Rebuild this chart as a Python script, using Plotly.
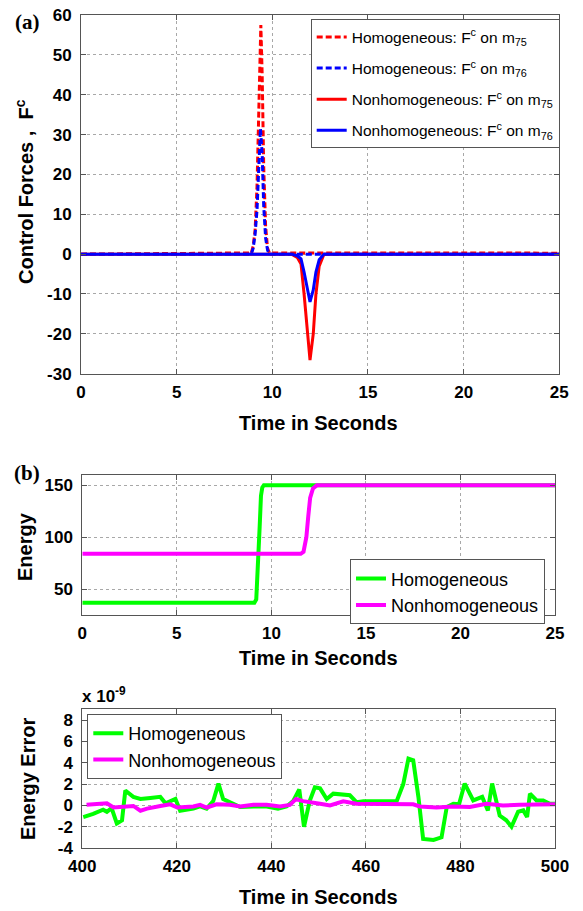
import plotly.graph_objects as go

# ---- (a) control forces ----
t_hom_m75 = [0, 6.0, 8.9, 9.0, 9.1, 9.2, 9.3, 9.4, 9.47, 9.55, 9.65, 9.75, 9.85, 25]
f_hom_m75 = [0, 0.25, 0.3, 2.0, 6.0, 17.0, 40.0, 57.5, 45.0, 22.0, 7.0, 1.5, 0.3, 0.25]
t_hom_m76 = [0, 8.9, 9.0, 9.1, 9.2, 9.3, 9.38, 9.47, 9.55, 9.65, 9.75, 9.85, 25]
f_hom_m76 = [0, 0, 1.5, 5.0, 11.0, 23.0, 31.5, 25.0, 12.0, 4.0, 1.0, 0, 0]
t_non = [0, 11.0, 11.3, 11.5, 11.66, 11.83, 11.97, 12.14, 12.28, 12.45, 12.7, 25]
f_non_m75 = [0, 0, -0.8, -2.5, -10.0, -20.0, -26.6, -20.0, -10.0, -3.0, 0, 0]
f_non_m76 = [0, 0, -0.4, -1.2, -4.5, -9.0, -12.0, -9.0, -4.5, -1.4, 0, 0]

# ---- (b) energy ----
t_e_hom = [0, 9.1, 9.2, 9.3, 9.38, 9.45, 9.52, 9.6, 25]
e_hom = [36.8, 36.8, 40, 70, 110, 140, 148, 150, 150]
t_e_non = [0, 11.55, 11.7, 11.85, 11.95, 12.05, 12.2, 12.4, 25]
e_non = [84, 84, 86, 100, 120, 138, 147, 150, 150]

# ---- (c) energy error (x 1e-9) ----
t_err_hom = [400.2, 402.3, 404.4, 405.2, 406.2, 407.3, 408.4, 409.1, 410.8, 412.3, 414.4,
             416.5, 417.6, 419.7, 420.7, 423.5, 424.9, 426.3, 427.7, 428.8, 429.8, 431.2,
             433.4, 436.2, 439.0, 441.4, 443.2, 444.6, 445.9, 446.9, 448.1, 449.2, 450.3,
             451.7, 453.1, 456.6, 458.0, 459.5, 466.5, 467.9, 469.0, 470.0, 471.1, 472.1,
             474.3, 476.0, 477.1, 478.5, 479.7, 480.9, 482.7, 484.6, 485.8, 486.7, 488.3,
             489.7, 490.8, 492.2, 493.3, 494.1, 494.7, 496.1, 497.5, 498.9, 500.0]
err_hom = [-1.1, -0.8, -0.4, -0.6, -0.25, -1.7, -1.4, 1.4, 0.8, 0.6, 0.7,
           0.8, 0.2, 0.6, -0.5, -0.3, -0.1, -0.3, 0.4, 2.05, 0.6, 0.3,
           -0.15, -0.1, -0.1, -0.3, -0.1, 0.4, 1.5, -2.0, 0.4, 1.7, 1.6,
           0.6, 1.1, 0.95, 0.3, 0.4, 0.4, 2.0, 4.4, 4.25, 0.8, -3.15,
           -3.25, -3.0, -0.15, 0.15, 0.1, 2.05, 0.47, 0.8, -0.47, 2.05, -0.95,
           -1.4, -2.0, -0.6, -0.47, -1.1, 1.1, 0.47, 0.47, 0.15, 0.15]
t_err_non = [400.9, 405.2, 406.6, 409.4, 410.8, 412.3, 413.7, 416.5, 418.6, 420.1, 423.5,
             424.9, 426.3, 428.4, 431.2, 433.4, 436.2, 439.0, 441.8, 443.9, 445.2, 446.7,
             448.9, 450.3, 452.4, 455.2, 458.0, 464.4, 470.0, 471.4, 474.9, 478.5, 482.0,
             485.5, 489.0, 492.6, 496.1, 500.0]
err_non = [0.05, 0.2, -0.2, -0.1, -0.05, -0.5, -0.3, -0.05, 0.1, -0.2, -0.1,
           0.05, -0.2, 0.1, 0.05, -0.1, 0.05, 0.05, -0.1, 0.05, 0.6, 0.4,
           0.3, 0.15, 0.0, 0.38, 0.15, 0.15, 0.1, -0.1, -0.2, -0.1, -0.15,
           0.15, 0.0, 0.05, 0.05, 0.1]

# ---- tick values ----
ticks_time = [0, 5, 10, 15, 20, 25]
ticks_force = [-30, -20, -10, 0, 10, 20, 30, 40, 50, 60]
ticks_energy = [50, 100, 150]
ticks_time_late = [400, 420, 440, 460, 480, 500]
ticks_error = [-4, -2, 0, 2, 4, 6, 8]

RED, BLUE, GREEN, MAGENTA = "#ff0000", "#0000ff", "#00ff00", "#ff00ff"
SANS = "Liberation Sans"
W, H = 583, 911


def px_x(p):
    return p / W


def px_y(p):
    return 1 - p / H


def bold_labels(vals):
    return ["<b>%d</b>" % v for v in vals]


fig = go.Figure()

dash = "6px,3px"
panel_a = [
    (t_hom_m75, f_hom_m75, RED, dash, "Homogeneous: F<sup>c</sup> on m<sub>75</sub>"),
    (t_hom_m76, f_hom_m76, BLUE, dash, "Homogeneous: F<sup>c</sup> on m<sub>76</sub>"),
    (t_non, f_non_m75, RED, "solid", "Nonhomogeneous: F<sup>c</sup> on m<sub>75</sub>"),
    (t_non, f_non_m76, BLUE, "solid", "Nonhomogeneous: F<sup>c</sup> on m<sub>76</sub>"),
]
for i, (tx, fy, col, ds, nm) in enumerate(panel_a):
    fig.add_trace(go.Scatter(x=tx, y=fy, mode="lines", xaxis="x", yaxis="y",
                             line=dict(color=col, width=3, dash=ds), legend="legend",
                             legendgroup="a%d" % i, name=nm))

fig.add_trace(go.Scatter(x=t_e_hom, y=e_hom, mode="lines", xaxis="x2", yaxis="y2",
                         line=dict(color=GREEN, width=4), legend="legend2", name="Homogeneous"))
fig.add_trace(go.Scatter(x=t_e_non, y=e_non, mode="lines", xaxis="x2", yaxis="y2",
                         line=dict(color=MAGENTA, width=4), legend="legend2", name="Nonhomogeneous"))

fig.add_trace(go.Scatter(x=t_err_hom, y=err_hom, mode="lines", xaxis="x3", yaxis="y3",
                         line=dict(color=GREEN, width=4), legend="legend3", name="Homogeneous"))
fig.add_trace(go.Scatter(x=t_err_non, y=err_non, mode="lines", xaxis="x3", yaxis="y3",
                         line=dict(color=MAGENTA, width=4), legend="legend3", name="Nonhomogeneous"))

axis_common = dict(
    showline=True, linecolor="#555555", linewidth=1, mirror="ticks",
    ticks="inside", ticklen=5, tickcolor="#555555",
    showgrid=True, gridcolor="#a8a8a8", griddash="dot", gridwidth=1,
    zeroline=False, automargin=False,
    tickfont=dict(family=SANS, size=17, color="black"),
)


def xax(dom, rng, vals, anchor):
    return dict(axis_common, domain=dom, range=rng, tickvals=vals,
                ticktext=bold_labels(vals), anchor=anchor, ticklabelstandoff=3)


def yax(dom, rng, vals, anchor):
    return dict(axis_common, domain=dom, range=rng, tickvals=vals,
                ticktext=bold_labels(vals), anchor=anchor, ticklabelstandoff=5)


legend_common = dict(
    bgcolor="white", bordercolor="#555555", borderwidth=1,
    font=dict(family=SANS, size=18, color="black"),
    xanchor="left", yanchor="top",
)

fig.update_layout(
    width=W, height=H, margin=dict(l=0, r=0, t=0, b=0, autoexpand=False),
    paper_bgcolor="white", plot_bgcolor="white",
    xaxis=xax([px_x(81), px_x(559.3)], [0, 25], ticks_time, "y"),
    yaxis=yax([px_y(373.7), px_y(15)], [-30, 60], ticks_force, "x"),
    xaxis2=xax([px_x(82.3), px_x(555)], [0, 25], ticks_time, "y2"),
    yaxis2=yax([px_y(615), px_y(475)], [25, 160], ticks_energy, "x2"),
    xaxis3=xax([px_x(82.3), px_x(555)], [400, 500], ticks_time_late, "y3"),
    yaxis3=yax([px_y(848), px_y(709)], [-4, 9.05], ticks_error, "x3"),
    legend=dict(legend_common, x=px_x(310.7), y=px_y(19.3), tracegroupgap=8,
                font=dict(family=SANS, size=15.5, color="black")),
    legend2=dict(legend_common, x=px_x(350), y=px_y(559.3)),
    legend3=dict(legend_common, x=px_x(87.3), y=px_y(714)),
    showlegend=True,
)

title_font = dict(family=SANS, size=20, color="black", weight="bold")
letter_font = dict(family="Liberation Serif", size=21, color="black", weight="bold")
annotations = [
    # panel letters
    dict(text="(a)", x=px_x(27), y=px_y(22), font=letter_font),
    dict(text="(b)", x=px_x(27), y=px_y(473), font=letter_font),
    # x-axis titles
    dict(text="Time in Seconds", x=px_x(318), y=px_y(423), font=title_font),
    dict(text="Time in Seconds", x=px_x(318), y=px_y(658), font=title_font),
    dict(text="Time in Seconds", x=px_x(318), y=px_y(897), font=title_font),
    # y-axis titles
    dict(text="Control Forces ,  F<sup>c</sup>", x=px_x(24), y=px_y(192), textangle=-90, font=title_font),
    dict(text="Energy", x=px_x(25), y=px_y(547), textangle=-90, font=title_font),
    dict(text="Energy Error", x=px_x(28), y=px_y(779), textangle=-90, font=title_font),
    # exponent label
    dict(text="x 10<sup>-9</sup>", x=px_x(80), y=px_y(695), xanchor="left",
         font=dict(family=SANS, size=17, color="black", weight="bold")),
]
for a in annotations:
    a.setdefault("xanchor", "center")
    a.update(xref="paper", yref="paper", showarrow=False, yanchor="middle")
fig.update_layout(annotations=annotations)

fig.write_html("out.html")
